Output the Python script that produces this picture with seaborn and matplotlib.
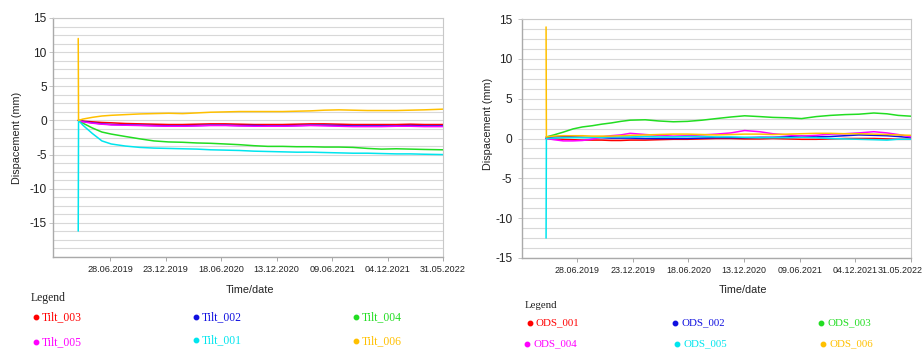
import numpy as np
import pandas as pd
import matplotlib
matplotlib.use("Agg")
import matplotlib.pyplot as plt
import matplotlib.dates as mdates
import matplotlib.transforms as mtransforms
from matplotlib.lines import Line2D
import seaborn as sns

# ---------------- data ----------------
tilt_dates = ["2019-03-17", "2019-03-18", "2019-04-01", "2019-05-01", "2019-06-01", "2019-07-01",
              "2019-08-15", "2019-10-01", "2019-11-15", "2020-01-01", "2020-02-15", "2020-04-01",
              "2020-05-15", "2020-07-01", "2020-08-15", "2020-10-01", "2020-11-15", "2021-01-01",
              "2021-02-15", "2021-04-01", "2021-05-15", "2021-07-01", "2021-08-15", "2021-10-01",
              "2021-11-15", "2022-01-01", "2022-02-15", "2022-04-01", "2022-05-31"]
tilt_003 = [0, 0, -0.1, -0.2, -0.3, -0.35, -0.45, -0.5, -0.55, -0.6, -0.6, -0.55, -0.5, -0.5, -0.55,
            -0.6, -0.6, -0.6, -0.55, -0.5, -0.5, -0.55, -0.6, -0.6, -0.6, -0.6, -0.55, -0.6, -0.6]
tilt_002 = [0, 0, -0.15, -0.35, -0.5, -0.6, -0.65, -0.7, -0.75, -0.8, -0.8, -0.75, -0.7, -0.7, -0.75,
            -0.75, -0.8, -0.8, -0.75, -0.7, -0.7, -0.75, -0.8, -0.8, -0.8, -0.8, -0.75, -0.8, -0.8]
tilt_004 = [0, 0, -0.4, -1.1, -1.7, -2.0, -2.35, -2.7, -3.0, -3.15, -3.2, -3.3, -3.35, -3.45, -3.55,
            -3.7, -3.8, -3.8, -3.85, -3.85, -3.9, -3.9, -3.95, -4.1, -4.2, -4.15, -4.2, -4.25, -4.3]
tilt_005 = [0, 0, -0.2, -0.4, -0.55, -0.65, -0.7, -0.75, -0.8, -0.85, -0.85, -0.8, -0.75, -0.75, -0.8,
            -0.85, -0.85, -0.85, -0.8, -0.75, -0.8, -0.85, -0.9, -0.9, -0.9, -0.85, -0.85, -0.9, -0.9]
tilt_001 = [-16.2, 0, -0.7, -1.9, -3.0, -3.45, -3.75, -3.95, -4.05, -4.1, -4.15, -4.2, -4.3, -4.35, -4.4,
            -4.5, -4.55, -4.6, -4.65, -4.65, -4.7, -4.75, -4.8, -4.8, -4.85, -4.9, -4.9, -4.95, -5.0]
tilt_006 = [12.0, 0, 0.2, 0.45, 0.65, 0.75, 0.85, 0.95, 1.0, 1.05, 1.0, 1.1, 1.2, 1.25, 1.3,
            1.3, 1.3, 1.3, 1.35, 1.4, 1.5, 1.55, 1.5, 1.45, 1.45, 1.45, 1.5, 1.55, 1.65]

ods_dates = ["2019-03-21", "2019-03-22", "2019-04-15", "2019-05-15", "2019-06-15", "2019-07-15",
             "2019-08-15", "2019-09-15", "2019-10-15", "2019-11-15", "2019-12-15", "2020-02-01",
             "2020-03-15", "2020-05-01", "2020-06-15", "2020-08-01", "2020-09-15", "2020-11-01",
             "2020-12-15", "2021-02-01", "2021-03-15", "2021-05-01", "2021-06-15", "2021-08-01",
             "2021-09-15", "2021-11-01", "2021-12-15", "2022-02-01", "2022-03-15", "2022-04-20",
             "2022-05-31"]
ods_001 = [0, 0, -0.05, -0.1, -0.15, -0.2, -0.2, -0.2, -0.25, -0.25, -0.2, -0.2, -0.15, -0.1, -0.1,
           -0.05, 0, 0, -0.05, -0.05, 0, -0.05, -0.1, -0.1, -0.05, 0, 0, 0, -0.05, -0.1, -0.1]
ods_002 = [0, 0.1, 0.2, 0.25, 0.2, 0.15, 0.1, 0.1, 0.05, 0.05, 0.05, 0.0, 0.0, 0.0, 0.0, 0.05,
           0.1, 0.1, 0.1, 0.15, 0.15, 0.2, 0.3, 0.2, 0.25, 0.35, 0.45, 0.4, 0.35, 0.25, 0.1]
ods_003 = [0.2, 0.2, 0.45, 0.8, 1.2, 1.45, 1.6, 1.8, 1.95, 2.15, 2.3, 2.35, 2.2, 2.1, 2.15, 2.3,
           2.5, 2.7, 2.85, 2.75, 2.65, 2.6, 2.5, 2.75, 2.9, 3.0, 3.05, 3.2, 3.1, 2.9, 2.8]
ods_004 = [0, 0, -0.15, -0.3, -0.3, -0.25, -0.1, 0.2, 0.35, 0.45, 0.65, 0.5, 0.4, 0.3, 0.35, 0.45,
           0.55, 0.7, 1.0, 0.85, 0.6, 0.45, 0.3, 0.4, 0.55, 0.6, 0.7, 0.85, 0.7, 0.5, 0.2]
ods_005 = [-12.5, 0, 0.05, 0.1, 0.1, 0.1, 0.15, 0.15, 0.2, 0.2, 0.2, 0.25, 0.2, 0.2, 0.25, 0.25,
           0.2, 0.2, 0.15, 0.1, 0.1, 0.1, 0.15, 0.1, 0.0, -0.05, -0.1, -0.15, -0.2, -0.1, -0.1]
ods_006 = [14.0, 0.2, 0.3, 0.35, 0.35, 0.35, 0.3, 0.3, 0.3, 0.35, 0.4, 0.45, 0.5, 0.55, 0.55, 0.5,
           0.45, 0.5, 0.55, 0.55, 0.5, 0.55, 0.6, 0.65, 0.65, 0.6, 0.6, 0.55, 0.5, 0.45, 0.4]

tilt_names = ["Tilt_003", "Tilt_002", "Tilt_004", "Tilt_005", "Tilt_001", "Tilt_006"]
ods_names = ["ODS_001", "ODS_002", "ODS_003", "ODS_004", "ODS_005", "ODS_006"]
tick_labels = ["28.06.2019", "23.12.2019", "18.06.2020", "13.12.2020", "09.06.2021", "04.12.2021", "31.05.2022"]

# ---------------- style ----------------
sns.set_theme(style="white")
plt.rcParams["font.family"] = ["Liberation Sans", "DejaVu Sans"]

colors = ["#ff0000", "#1010e0", "#22dd22", "#ff00ff", "#00e5ee", "#ffc000"]

W, H = 924, 350
fig = plt.figure(figsize=(W / 100, H / 100), dpi=100)


def fx(x):
    return x / W


def fy(y):
    return 1 - y / H


def make_df(dates, series, names):
    d = pd.to_datetime(dates)
    frames = [pd.DataFrame({"date": d, "value": s, "sensor": n}) for s, n in zip(series, names)]
    return pd.concat(frames, ignore_index=True)


df_tilt = make_df(tilt_dates, [tilt_003, tilt_002, tilt_004, tilt_005, tilt_001, tilt_006], tilt_names)
df_ods = make_df(ods_dates, [ods_001, ods_002, ods_003, ods_004, ods_005, ods_006], ods_names)


def setup(ax, df, names, xlim, ylim, yticks, xfs):
    pal = dict(zip(names, colors))
    sns.lineplot(data=df, x="date", y="value", hue="sensor", palette=pal, hue_order=names,
                 estimator=None, sort=False, lw=1.1, legend=False, ax=ax)
    ax.set_xlim(pd.Timestamp(xlim[0]), pd.Timestamp(xlim[1]))
    ax.set_ylim(*ylim)
    ax.set_yticks(yticks)
    ax.set_yticks(np.arange(ylim[0], ylim[1] + 0.01, 1.25), minor=True)
    ax.set_yticklabels([str(int(v)) for v in yticks])
    ax.grid(True, which="both", axis="y", color="#d8d8d8", lw=0.8)
    ax.grid(False, axis="x")
    ax.set_axisbelow(True)
    ticks = pd.to_datetime(tick_labels, format="%d.%m.%Y")
    ax.set_xticks(ticks)
    ax.xaxis.set_major_formatter(mdates.DateFormatter("%d.%m.%Y"))
    ax.tick_params(axis="x", which="major", labelsize=xfs, length=3, width=0.6,
                   color="#999999", bottom=True, pad=3, labelcolor="#222222")
    ax.tick_params(axis="y", which="major", labelsize=8.6, length=3, width=0.6,
                   color="#bbbbbb", left=True, pad=1.5, labelcolor="#222222")
    ax.tick_params(axis="y", which="minor", length=0)
    for s in ["left", "bottom"]:
        ax.spines[s].set_color("#aaaaaa")
        ax.spines[s].set_linewidth(1.0)
    for s in ["top", "right"]:
        ax.spines[s].set_color("#c8c8c8")
        ax.spines[s].set_linewidth(0.8)
    ax.set_xlabel("")
    ax.set_ylabel("")


ax1 = fig.add_axes([fx(53), fy(257), fx(443) - fx(53), fy(18) - fy(257)])
setup(ax1, df_tilt, tilt_names, ("2018-12-26", "2022-05-31"), (-20, 15), [-15, -10, -5, 0, 5, 10, 15], 6.6)

ax2 = fig.add_axes([fx(522), fy(258), fx(911) - fx(522), fy(19) - fy(258)])
setup(ax2, df_ods, ods_names, ("2019-01-03", "2022-05-31"), (-15, 15), [-15, -10, -5, 0, 5, 10, 15], 6.4)
ax2.tick_params(axis="y", which="major", pad=4)

# keep the last date label of the right chart inside the figure
fig.canvas.draw()
last = ax2.get_xticklabels()[-1]
last.set_transform(last.get_transform() + mtransforms.ScaledTranslation(-11 / 100, 0, fig.dpi_scale_trans))

# axis titles
fig.text(fx(17), fy(138), "Dispacement (mm)", rotation=90, ha="center", va="center", fontsize=7.8, color="#222222")
fig.text(fx(488), fy(124), "Dispacement (mm)", rotation=90, ha="center", va="center", fontsize=7.8, color="#222222")
fig.text(fx(250), fy(290), "Time/date", ha="center", va="center", fontsize=7.8, color="#222222")
fig.text(fx(743), fy(290), "Time/date", ha="center", va="center", fontsize=7.8, color="#222222")

# legends
serif = ["Liberation Serif", "DejaVu Serif"]


def legend(title_xy, names, dot_xy, fs):
    fig.text(fx(title_xy[0]), fy(title_xy[1]), "Legend", family=serif, fontsize=fs,
             ha="left", va="center", color="#222222")
    for n, c, (dx, dy) in zip(names, colors, dot_xy):
        fig.add_artist(Line2D([fx(dx)], [fy(dy)], marker="o", ms=3.2, color=c, mec=c,
                              transform=fig.transFigure))
        fig.text(fx(dx + 6), fy(dy), n, family=serif, fontsize=fs, ha="left", va="center", color=c)


legend((30.5, 298), tilt_names,
       [(36, 317), (196, 317), (356, 317), (36, 342), (196, 340), (356, 341)], 8.4)
legend((525, 306), ods_names,
       [(530, 323), (675, 323), (821, 323), (527, 344), (677, 344), (823, 344)], 7.8)

fig.savefig("out.png", dpi=100)
